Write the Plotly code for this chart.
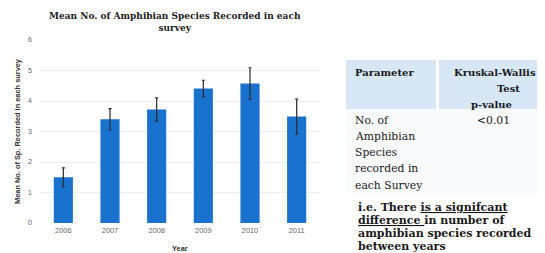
import plotly.graph_objects as go

years = ["2006", "2007", "2008", "2009", "2010", "2011"]
mean_species = [1.5, 3.4, 3.72, 4.41, 4.57, 3.49]
std_error = [0.31, 0.35, 0.38, 0.27, 0.52, 0.57]
y_ticks = [0, 1, 2, 3, 4, 5, 6]

# page body has an 8px margin, so the figure is drawn in page coords shifted by 8
OFF = 8
W, H = 545 - OFF, 253 - OFF
# plot area in page pixels: x 40..320, y 40..223
ML = 40 - OFF
MT = 40 - OFF
MR = W - (320 - OFF)
MB = H - (223 - OFF)
PW, PH = W - ML - MR, H - MT - MB

def px(x):
    return (x - OFF - ML) / PW

def py(y):
    return (H - MB - (y - OFF)) / PH

fig = go.Figure()
fig.add_trace(go.Bar(
    x=years, y=mean_species,
    marker=dict(color="#1a72cf", line=dict(width=0)),
    error_y=dict(type="data", array=std_error, symmetric=True,
                 color="#2b2b2b", thickness=1.2, width=1.5),
))

serif = "DejaVu Serif, Liberation Serif, serif"
sans = "Liberation Sans, Arial, sans-serif"
ann = []
ann.append(dict(text="<b>Mean No. of Amphibian Species Recorded in each<br>survey</b>",
                x=px(175), y=py(22), xref="paper", yref="paper",
                xanchor="center", yanchor="middle", showarrow=False,
                font=dict(family=serif, size=9, color="#222")))
ann.append(dict(text="<b>Mean No. of Sp. Recorded in each survey</b>", textangle=-90,
                x=px(17), y=py(131), xref="paper", yref="paper",
                xanchor="center", yanchor="middle", showarrow=False,
                font=dict(family=sans, size=7.4, color="#333")))
ann.append(dict(text="<b>Year</b>", x=px(180), y=py(248), xref="paper", yref="paper",
                xanchor="center", yanchor="middle", showarrow=False,
                font=dict(family=sans, size=7.4, color="#333")))

def txt(s, x, y, anchor="left", size=11, bold=False):
    ann.append(dict(text=("<b>%s</b>" % s) if bold else s, x=px(x), y=py(y),
                    xref="paper", yref="paper", xanchor=anchor, yanchor="middle",
                    showarrow=False, font=dict(family=serif, size=size, color="#1a1a1a")))

txt("Parameter", 353, 72, size=10, bold=True)
txt("Kruskal-Wallis", 538, 72, anchor="right", size=10, bold=True)
txt("Test", 522, 88, anchor="right", size=10, bold=True)
txt("p-value", 491, 104, anchor="center", size=10, bold=True)
for i, line in enumerate(["No. of", "Amphibian", "Species", "recorded in", "each Survey"]):
    txt(line, 353, 120 + i * 16.3, size=10.8)
txt("&lt;0.01", 493, 120, anchor="center", size=10.8)
concl = ["i.e. There <u>is a signifcant</u>", "<u>difference </u>in number of",
         "amphibian species recorded", "between years"]
for i, line in enumerate(concl):
    txt(line, 356, 207 + i * 13.3, size=11, bold=True)

shapes = [
    dict(type="rect", xref="paper", yref="paper", x0=px(346), x1=px(436), y0=py(109), y1=py(60),
         fillcolor="#d7e7f6", line=dict(width=0), layer="below"),
    dict(type="rect", xref="paper", yref="paper", x0=px(439), x1=px(545), y0=py(109), y1=py(60),
         fillcolor="#d7e7f6", line=dict(width=0), layer="below"),
    dict(type="rect", xref="paper", yref="paper", x0=px(346), x1=px(545), y0=py(193), y1=py(109),
         fillcolor="#f9fafc", line=dict(width=0), layer="below"),
]

fig.update_layout(
    width=W, height=H, margin=dict(l=ML, r=MR, t=MT, b=MB, pad=0),
    paper_bgcolor="white", plot_bgcolor="white", showlegend=False,
    bargap=0.59, annotations=ann, shapes=shapes,
    xaxis=dict(showgrid=False, showline=False, ticks="", zeroline=False,
               tickfont=dict(family=sans, size=7.4, color="#666"), ticklabelstandoff=2),
    yaxis=dict(range=[0, 6], tickvals=y_ticks, showgrid=True, gridcolor="#eeeeee",
               gridwidth=1, zeroline=False, showline=False, ticks="",
               tickfont=dict(family=sans, size=7, color="#666"), ticklabelstandoff=7),
)
fig.write_html("out.html")
